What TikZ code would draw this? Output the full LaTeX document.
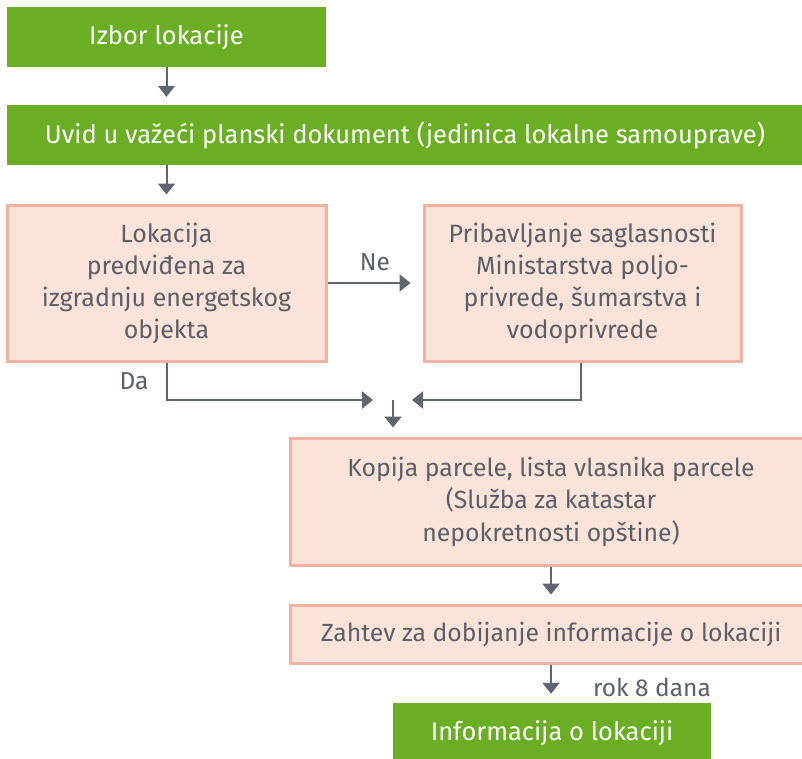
\documentclass[tikz,border=0pt]{standalone}
\usepackage{fontspec}
\setmainfont{Fira Sans}
\usetikzlibrary{arrows.meta}
\definecolor{grn}{HTML}{6AAF23}
\definecolor{pinkfill}{HTML}{FBE3D9}
\definecolor{pinkline}{HTML}{F4B0A0}
\definecolor{txt}{HTML}{5B6068}
\definecolor{arr}{HTML}{5F6670}
\tikzset{
  greenbox/.style={fill=grn, draw=none, text=white, inner sep=0pt, align=center, font=\fontsize{25.5}{30}\selectfont},
  pinkbox/.style={fill=pinkfill, draw=pinkline, line width=3pt, text=txt, inner sep=0pt, align=center, font=\fontsize{24.8}{32.5}\selectfont},
  condbox/.style={pinkbox, font=\fontsize{25}{32}\selectfont},
  flow/.style={draw=arr, line width=2pt, -{Triangle[width=17pt,length=11pt]}},
  lbl/.style={text=txt, font=\fontsize{24.5}{28}\selectfont, inner sep=0pt}
}
\begin{document}
\begin{tikzpicture}[x=1pt,y=-1pt]
\useasboundingbox (0,0) rectangle (802,758);
\node[greenbox, minimum width=319pt, minimum height=60pt] (b1) at (166.5,37) {Izbor lokacije};
\node[greenbox, minimum width=796pt, minimum height=60pt] (b2) at (405,135) {Uvid u važeći planski dokument (jedinica lokalne samouprave)};
\node[condbox, minimum width=319pt, minimum height=156pt] (b3) at (166.5,283) {Lokacija\\predviđena za\\izgradnju energetskog\\objekta};
\node[condbox, minimum width=317pt, minimum height=156pt] (b4) at (582.5,283) {Pribavljanje saglasnosti\\Ministarstva poljo-\\privrede, šumarstva i\\vodoprivrede};
\node[pinkbox, minimum width=515pt, minimum height=127pt] (b5) at (547.5,501.5) {\hspace*{7pt}Kopija parcele, lista vlasnika parcele\\\hspace*{7pt}(Služba za katastar\\\hspace*{7pt}nepokretnosti opštine)};
\node[pinkbox, minimum width=515pt, minimum height=58pt] (b6) at (547.5,634) {\hspace*{7pt}Zahtev za dobijanje informacije o lokaciji};
\node[greenbox, minimum width=318pt, minimum height=60pt] (b7) at (552,733) {Informacija o lokaciji};
\coordinate (j) at (393,400);
\draw[flow, shorten >=8pt] (b1.south) -- (b2.north -| b1.south);
\draw[flow, shorten >=9pt] (b2.south -| b1.south) -- (b3.north);
\draw[flow, shorten >=12pt] (b3.east) -- (b4.west);
\node[lbl] (ne) at (375,262) {Ne};
\draw[flow, shorten >=20pt] (b3.south) |- (j);
\node[lbl] (da) at (134,381) {Da};
\draw[flow, shorten >=19pt] (b4.south -| 581,0) |- (j);
\draw[flow, shorten >=9pt] (j) -- (b5.north -| j);
\draw[flow, shorten >=9pt] (b5.south -| 551,0) -- (b6.north -| 551,0);
\draw[flow, shorten >=9pt] (b6.south -| 551,0) -- (b7.north -| 551,0);
\node[lbl] (rok) at (652,687) {rok 8 dana};
\end{tikzpicture}
\end{document}
